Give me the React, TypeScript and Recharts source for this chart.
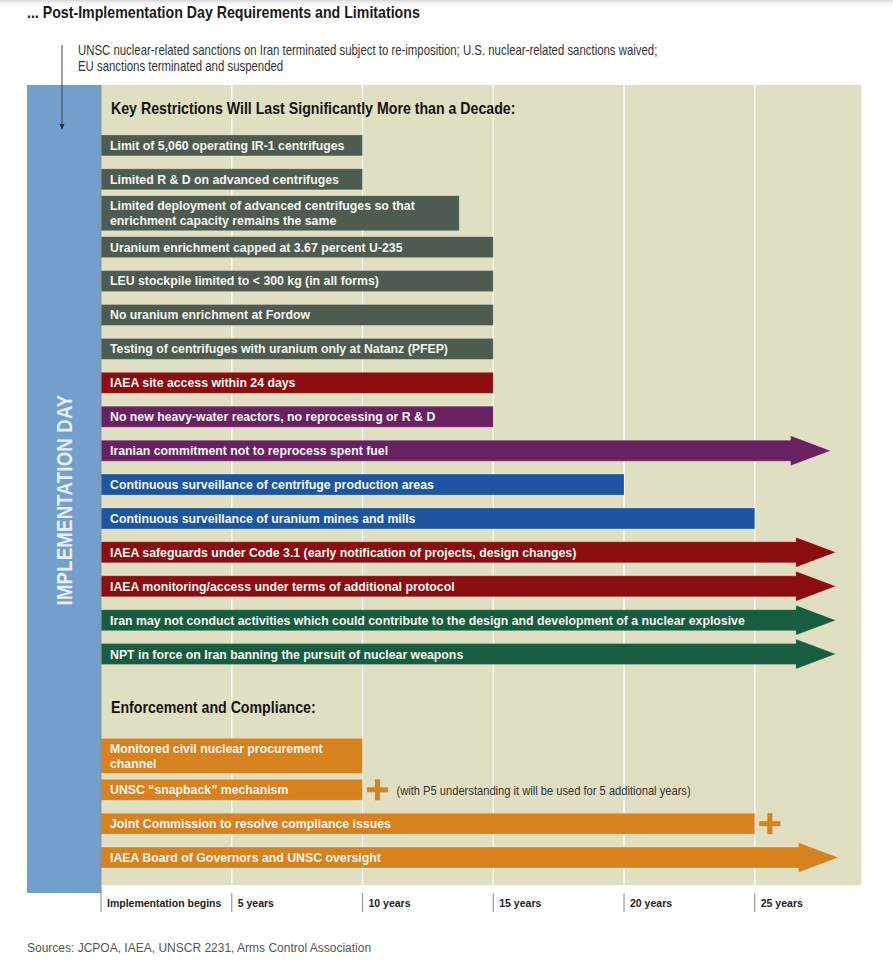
import React from "react";
import { ComposedChart, Bar, XAxis, YAxis, CartesianGrid } from "recharts";

const W = 893;
const H = 960;

const SANS = '"Liberation Sans", Arial, Helvetica, sans-serif';
// no condensed face is installed, so narrow text is Liberation Sans squeezed horizontally
const NARROW_SCALE = 0.82;

// ---- data ----
const sectionHeadings = [
  "Key Restrictions Will Last Significantly More than a Decade:",
  "Enforcement and Compliance:",
];

const restrictionLabels = [
  "Limit of 5,060 operating IR-1 centrifuges",
  "Limited R & D on advanced centrifuges",
  "Limited deployment of advanced centrifuges so that\nenrichment capacity remains the same",
  "Uranium enrichment capped at 3.67 percent U-235",
  "LEU stockpile limited to < 300 kg (in all forms)",
  "No uranium enrichment at Fordow",
  "Testing of centrifuges with uranium only at Natanz (PFEP)",
  "IAEA site access within 24 days",
  "No new heavy-water reactors, no reprocessing or R & D",
  "Iranian commitment not to reprocess spent fuel",
  "Continuous surveillance of centrifuge production areas",
  "Continuous surveillance of uranium mines and mills",
  "IAEA safeguards under Code 3.1 (early notification of projects, design changes)",
  "IAEA monitoring/access under terms of additional protocol",
  "Iran may not conduct activities which could contribute to the design and development of a nuclear explosive",
  "NPT in force on Iran banning the pursuit of nuclear weapons",
];
const restrictionYears = [10, 10, 13.7, 15, 15, 15, 15, 15, 15, 27.9, 20, 25, 28.1, 28.1, 28.1, 28.1];
const restrictionGroups = [
  "limit", "limit", "limit", "limit", "limit", "limit", "limit",
  "access", "reactor", "reactor", "surveillance", "surveillance",
  "access", "access", "npt", "npt",
];
const restrictionOngoing = [
  false, false, false, false, false, false, false, false, false,
  true, false, false, true, true, true, true,
];

const enforcementLabels = [
  "Monitored civil nuclear procurement\nchannel",
  "UNSC \u201Csnapback\u201D mechanism",
  "Joint Commission to resolve compliance issues",
  "IAEA Board of Governors and UNSC oversight",
];
const enforcementYears = [10, 10, 25, 28.2];
const enforcementOngoing = [false, false, false, true];
const enforcementExtended = [false, true, true, false];
const enforcementNotes = ["", "(with P5 understanding it will be used for 5 additional years)", "", ""];

const yearTicks = [0, 5, 10, 15, 20, 25];
const yearTickLabels = ["Implementation begins", "5 years", "10 years", "15 years", "20 years", "25 years"];

const GROUP_COLORS: Record<string, string> = {
  limit: "#4d5b50",
  access: "#8b0d0f",
  reactor: "#682262",
  surveillance: "#1c56a0",
  npt: "#175d40",
  enforcement: "#d8811f",
};

type Row = {
  id: string;
  kind: "heading" | "bar" | "spacer";
  label: string;
  years: number | null;
  group?: string;
  ongoing?: boolean;
  extended?: boolean;
  note?: string;
};

const rows: Row[] = [
  { id: "h1", kind: "heading", label: sectionHeadings[0], years: null },
  ...restrictionLabels.map((label, i) => ({
    id: `r${i}`,
    kind: "bar" as const,
    label,
    years: restrictionYears[i],
    group: restrictionGroups[i],
    ongoing: restrictionOngoing[i],
  })),
  { id: "gap", kind: "spacer", label: "", years: null },
  { id: "h2", kind: "heading", label: sectionHeadings[1], years: null },
  ...enforcementLabels.map((label, i) => ({
    id: `e${i}`,
    kind: "bar" as const,
    label,
    years: enforcementYears[i],
    group: "enforcement",
    ongoing: enforcementOngoing[i],
    extended: enforcementExtended[i],
    note: enforcementNotes[i],
  })),
];

const BAR_H = 21;
const TALL_H = 35;
const HEAD_LEN = 40;
const HEAD_HALF = 15;

function NarrowText(props: any) {
  const { x, y, size, weight = 400, fill, anchor = "start", rotate, spacing = 0, children } = props;
  const t = `translate(${x},${y})${rotate ? ` rotate(${rotate})` : ""} scale(${NARROW_SCALE},1)`;
  return (
    <text
      transform={t}
      x={0}
      y={0}
      dy="0.36em"
      textAnchor={anchor}
      fontFamily={SANS}
      fontSize={size}
      fontWeight={weight}
      letterSpacing={spacing}
      fill={fill}
    >
      {children}
    </text>
  );
}

function TimelineBar(props: any) {
  const { x, y, width, height, payload } = props;
  if (!payload || payload.kind !== "bar") return <g />;
  const lines: string[] = payload.label.split("\n");
  const h = lines.length > 1 ? TALL_H : height;
  const cy = y + height / 2;
  const top = cy - h / 2;
  const fill = GROUP_COLORS[payload.group];
  const end = x + width;
  let body;
  if (payload.ongoing) {
    const neck = end - HEAD_LEN;
    const d = `M${x},${top}H${neck}V${cy - HEAD_HALF}L${end},${cy}L${neck},${cy + HEAD_HALF}V${top + h}H${x}Z`;
    body = <path d={d} fill={fill} stroke="rgba(255,255,255,0.3)" strokeWidth={0.8} />;
  } else {
    body = (
      <rect x={x} y={top} width={width} height={h} fill={fill} stroke="rgba(255,255,255,0.3)" strokeWidth={0.8} />
    );
  }
  const lh = 15;
  const firstY = cy - ((lines.length - 1) * lh) / 2;
  return (
    <g>
      {body}
      <text fontFamily={SANS} fontWeight={700} fontSize={12.3} fill="#f6f6f0">
        {lines.map((l, i) => (
          <tspan key={i} x={x + 9} y={firstY + i * lh} dy="0.36em">
            {l}
          </tspan>
        ))}
      </text>
      {payload.extended && (
        <g fill={fill}>
          <rect x={end + 4.5} y={cy - 2.5} width={21} height={5} />
          <rect x={end + 12.5} y={cy - 10.5} width={5} height={21} />
        </g>
      )}
      {payload.note && (
        <NarrowText x={end + 34} y={cy} size={13.6} fill="#333">
          {payload.note}
        </NarrowText>
      )}
    </g>
  );
}

function HeadingTick(props: any) {
  const { x, y, payload } = props;
  const row = rows.find((r) => r.id === payload?.value) ?? rows[payload?.index ?? -1];
  if (!row || row.kind !== "heading") return <g />;
  const shift = row.id === "h2" ? -16 : -4;
  return (
    <NarrowText x={x + 10} y={y + shift} size={17.3} weight={700} fill="#141414">
      {row.label}
    </NarrowText>
  );
}

function YearTick(props: any) {
  const { x, y, payload } = props;
  const label = yearTickLabels[yearTicks.indexOf(payload?.value)];
  return (
    <g>
      <line x1={x} x2={x} y1={y + 8} y2={y + 27} stroke="#9a9a9a" strokeWidth={1.2} />
      <text x={x + 6} y={y + 18} dy="0.36em" fontFamily={SANS} fontWeight={700} fontSize={10.5} fill="#222">
        {label}
      </text>
    </g>
  );
}

function Decor() {
  return (
    <svg
      width={W}
      height={H}
      style={{ position: "absolute", left: 0, top: 0, pointerEvents: "none" }}
    >
      <defs>
        <linearGradient id="topShade" x1="0" y1="0" x2="0" y2="1">
          <stop offset="0%" stopColor="#d6d6d6" />
          <stop offset="100%" stopColor="#ffffff" stopOpacity={0} />
        </linearGradient>
      </defs>
      <rect x={0} y={0} width={W} height={7} fill="url(#topShade)" />
      <NarrowText x={27} y={12} size={17.3} weight={700} fill="#1a1a1a">
        {"... Post-Implementation Day Requirements and Limitations"}
      </NarrowText>
      <NarrowText x={78} y={50} size={13.9} fill="#333">
        UNSC nuclear-related sanctions on Iran terminated subject to re-imposition; U.S. nuclear-related sanctions waived;
      </NarrowText>
      <NarrowText x={78} y={66} size={13.9} fill="#333">
        EU sanctions terminated and suspended
      </NarrowText>
      <rect x={27} y={85} width={74} height={808} fill="#729fcc" />
      <line x1={101} x2={101} y1={85} y2={893} stroke="#8a8a8a" strokeWidth={1} />
      <line x1={62} x2={62} y1={45} y2={126} stroke="#444" strokeWidth={1} />
      <polygon points="59.5,124 64.5,124 62,130" fill="#333" />
      <NarrowText x={64} y={500} rotate={-90} anchor="middle" size={22.6} weight={700} spacing={0.3} fill="#e8eef6">
        IMPLEMENTATION DAY
      </NarrowText>
      <text x={27} y={948} dy="0.36em" fontFamily={SANS} fontSize={12} fill="#555">
        Sources: JCPOA, IAEA, UNSCR 2231, Arms Control Association
      </text>
    </svg>
  );
}

export default function App() {
  return (
    <div style={{ position: "absolute", left: 0, top: 0, width: W, height: H, background: "#fff" }}>
      <ComposedChart
        width={W}
        height={H}
        data={rows}
        layout="vertical"
        margin={{ top: 85, right: 31, bottom: 0, left: 100 }}
      >
        <CartesianGrid horizontal={false} stroke="#ffffff" strokeWidth={1.3} fill="#e0dfc1" fillOpacity={1} />
        <XAxis
          type="number"
          domain={[0, 29.1]}
          ticks={yearTicks}
          allowDataOverflow
          axisLine={false}
          tickLine={false}
          tickSize={0}
          tickMargin={0}
          height={75}
          tick={<YearTick />}
        />
        <Bar dataKey="years" barSize={BAR_H} shape={<TimelineBar />} isAnimationActive={false} />
        <YAxis
          type="category"
          dataKey="id"
          width={1}
          axisLine={false}
          tickLine={false}
          tickSize={0}
          tickMargin={0}
          padding={{ top: 10, bottom: 10 }}
          interval={0}
          tick={<HeadingTick />}
        />
      </ComposedChart>
      <Decor />
    </div>
  );
}
